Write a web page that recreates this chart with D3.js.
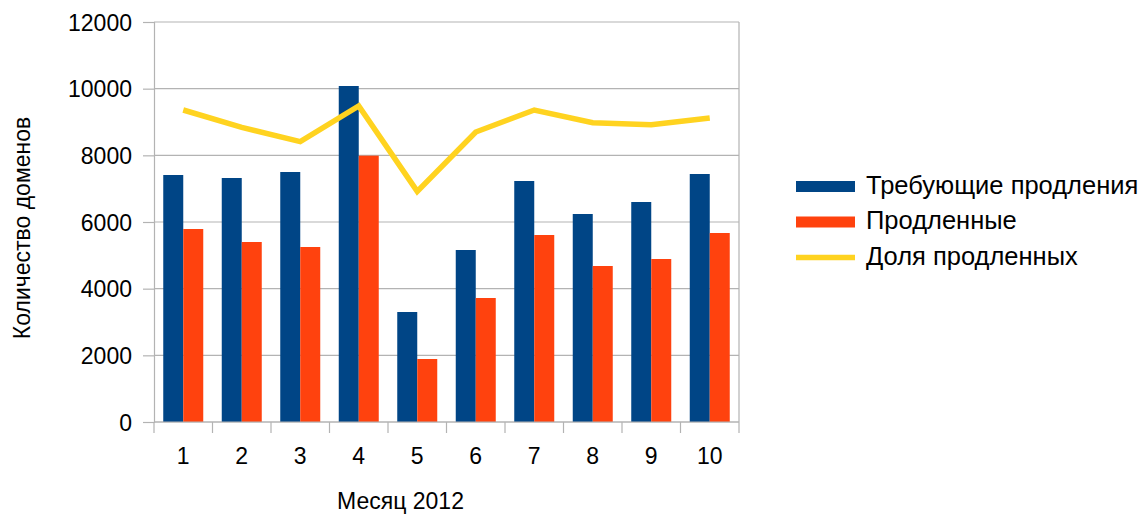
<!DOCTYPE html>
<html><head><meta charset="utf-8">
<script src="https://cdn.jsdelivr.net/npm/d3@7"></script>
<style>body{margin:0;background:#fff}svg{display:block}text{font-family:"Liberation Sans",Arial,sans-serif;fill:#000}</style>
</head><body><svg id="c" width="1145" height="515"></svg>
<script>
const months = ["1","2","3","4","5","6","7","8","9","10"];
const required = [7410,7320,7500,10080,3300,5160,7230,6240,6600,7440];
const renewed = [5790,5400,5250,7990,1890,3720,5610,4680,4890,5670];
const share = [9360,8840,8410,9480,6920,8700,9360,8980,8920,9120];
const yTicks = [0,2000,4000,6000,8000,10000,12000];
const seriesNames = ["Требующие продления","Продленные","Доля продленных"];
const colors = ["#004586","#ff420e","#ffd320"];

const svg = d3.select("#c");
const L=154,R=739,T=22,B=422;
const x = d3.scaleBand().domain(months).range([L,R]).paddingInner(0).paddingOuter(0);
const y = d3.scaleLinear().domain([0,12000]).range([B,T]);
const bw = 20;
const grid="#b3b3b3";

// gridlines
svg.append("g").selectAll("line").data(yTicks).join("line")
  .attr("x1",L).attr("x2",R).attr("y1",d=>y(d)).attr("y2",d=>y(d))
  .attr("stroke",grid).attr("stroke-width",1.2);
svg.append("line").attr("x1",R).attr("x2",R).attr("y1",T).attr("y2",B).attr("stroke",grid).attr("stroke-width",1.2);

// y axis
const ya = svg.append("g").attr("transform",`translate(${L},0)`)
  .call(d3.axisLeft(y).tickValues(yTicks).tickFormat(d3.format("d")).tickSize(11).tickPadding(11));
ya.select(".domain").attr("stroke",grid).attr("stroke-width",1.2);
ya.selectAll(".tick line").attr("stroke",grid).attr("stroke-width",1.2);
ya.selectAll("text").style("font-size","23px").attr("fill","#000").attr("dy","0.35em");

// x axis ticks at band boundaries
const boundaries = months.map(m=>x(m)).concat([R]);
svg.append("g").selectAll("line").data(boundaries).join("line")
  .attr("x1",d=>d).attr("x2",d=>d).attr("y1",B).attr("y2",B+11)
  .attr("stroke",grid).attr("stroke-width",1.2);
svg.append("g").selectAll("text").data(months).join("text")
  .attr("x",d=>x(d)+x.bandwidth()/2).attr("y",464)
  .attr("text-anchor","middle").style("font-size","23px").text(d=>d);

// bars
const cx = m => x(m)+x.bandwidth()/2;
svg.append("g").selectAll("rect").data(months).join("rect")
  .attr("x",m=>cx(m)-bw).attr("width",bw)
  .attr("y",(m,i)=>y(required[i])).attr("height",(m,i)=>B-y(required[i]))
  .attr("fill",colors[0]);
svg.append("g").selectAll("rect").data(months).join("rect")
  .attr("x",m=>cx(m)).attr("width",bw)
  .attr("y",(m,i)=>y(renewed[i])).attr("height",(m,i)=>B-y(renewed[i]))
  .attr("fill",colors[1]);
svg.append("line").attr("x1",L).attr("x2",R).attr("y1",B).attr("y2",B).attr("stroke",grid).attr("stroke-width",1.2);

// line
svg.append("path").datum(months)
  .attr("d",d3.line().x(m=>cx(m)).y((m,i)=>y(share[i])))
  .attr("fill","none").attr("stroke",colors[2]).attr("stroke-width",5.5).attr("stroke-linejoin","miter");

// titles
svg.append("text").attr("x",400.5).attr("y",509).attr("text-anchor","middle").style("font-size","23px").text("Месяц 2012");
svg.append("text").attr("transform","translate(30,228) rotate(-90)").attr("text-anchor","middle").style("font-size","23px").text("Количество доменов");

// legend
const lg = svg.append("g");
seriesNames.forEach((n,i)=>{
  const cy = 186.5 + i*35.5;
  if(i<2) lg.append("rect").attr("x",796).attr("y",cy-5.5).attr("width",59).attr("height",11).attr("fill",colors[i]);
  else lg.append("line").attr("x1",796).attr("x2",855).attr("y1",cy).attr("y2",cy).attr("stroke",colors[i]).attr("stroke-width",5.5);
  lg.append("text").attr("x",866).attr("y",cy+7).style("font-size","25.5px").text(n);
});
</script></body></html>
